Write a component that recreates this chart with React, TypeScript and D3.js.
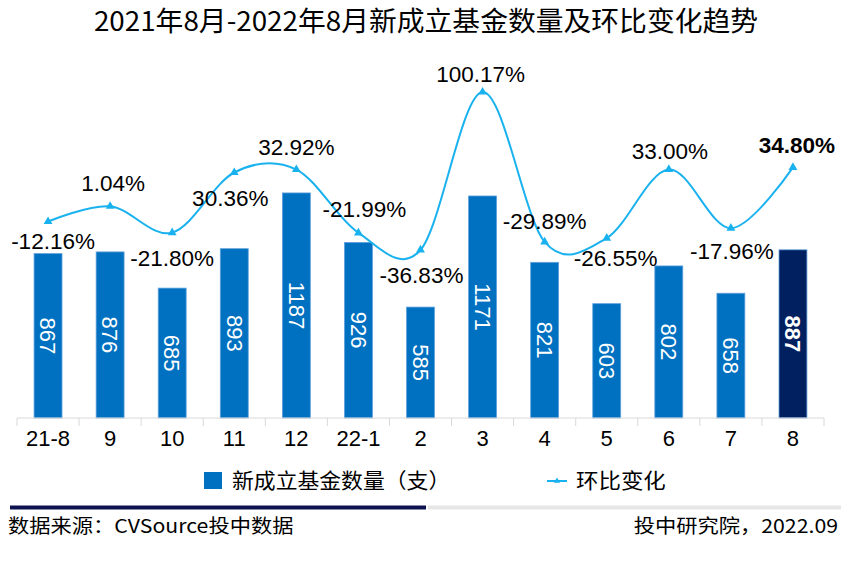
import React from "react";
import * as d3 from "d3";

const categories = ["21-8", "9", "10", "11", "12", "22-1", "2", "3", "4", "5", "6", "7", "8"];
const fundCounts = [867, 876, 685, 893, 1187, 926, 585, 1171, 821, 603, 802, 658, 887];
const momChange = [-12.16, 1.04, -21.8, 30.36, 32.92, -21.99, -36.83, 100.17, -29.89, -26.55, 33.0, -17.96, 34.8];
const seriesNames = ["新成立基金数量（支）", "环比变化"];
const titleText = "2021年8月-2022年8月新成立基金数量及环比变化趋势";
const sourceText = "数据来源：CVSource投中数据";
const creditText = "投中研究院，2022.09";

// label placement offsets (dx, dy) relative to the line point
const labelDx = [5, 3, 0, -4, 0, 6, 1, -2, 0, 9, 1, 1, 4];
const labelDy = [20, -23, 25, 26, -22, -24, 25, -18, -21, 20, -18, 23, -22];

const W = 849;
const H = 567;
const CJK = "'Noto Sans CJK SC', 'Noto Sans', sans-serif";
const LAT = "'Liberation Sans', Arial, sans-serif";

function SText(props: {
  x: number; y: number; text: string; size: number; fill?: string; anchor?: string;
  weight?: string | number; family?: string; rotate?: number; sx?: number;
}) {
  const { x, y, text, size, fill = "#000", anchor = "middle", weight = "normal", family = LAT, rotate = 0, sx = 1 } = props;
  return (
    <g transform={`translate(${x},${y}) scale(${sx},1) rotate(${rotate})`}>
      <text
        x={0}
        y={0}
        dy="0.35em"
        textAnchor={anchor as any}
        fontSize={size}
        fontFamily={family}
        fontWeight={weight}
        fill={fill}
      >
        {text}
      </text>
    </g>
  );
}

export default function App() {
  const x = d3
    .scaleBand<string>()
    .domain(categories)
    .range([17, 824])
    .paddingInner(0.55)
    .paddingOuter(0.275);
  const step = x.step();
  const baseY = 418;
  const y = d3.scaleLinear().domain([0, 1400]).range([baseY, baseY - 1400 * 0.1896]);
  const y2 = d3.scaleLinear().domain([0, 100]).range([207.5, 207.5 - 115.3]);

  const pts: [number, number][] = momChange.map((v, i) => [x(categories[i])! + x.bandwidth() / 2, y2(v)]);
  const linePath = d3.line().curve(d3.curveCardinal.tension(0))(pts) || "";
  const tri = d3.symbol().type(d3.symbolTriangle).size(34)() || "";

  const lineColor = "#1AB2EE";
  const barColor = "#0070C0";
  const lastColor = "#002060";

  return (
    <div style={{ position: "absolute", left: 0, top: 0 }}>
      <svg width={W} height={H} style={{ display: "block", background: "#fff" }}>
        <rect x={0} y={0} width={W} height={H} fill="#fff" />
        <SText x={426} y={22} text={titleText} size={27} sx={1.03} family={CJK} />

        {/* bars */}
        {fundCounts.map((v, i) => (
          <rect
            key={"b" + i}
            x={x(categories[i])!}
            y={y(v)}
            width={x.bandwidth()}
            height={baseY - y(v)}
            fill={i === fundCounts.length - 1 ? lastColor : barColor}
            stroke="#5fa0dc"
            strokeWidth={0.8}
          />
        ))}
        {fundCounts.map((v, i) => (
          <SText
            key={"bl" + i}
            x={x(categories[i])! + x.bandwidth() / 2}
            y={(y(v) + baseY) / 2}
            text={String(v)}
            size={22}
            fill="#fff"
            rotate={90}
            weight={i === fundCounts.length - 1 ? "bold" : "normal"}
          />
        ))}

        {/* axis */}
        <line x1={17} x2={824} y1={baseY} y2={baseY} stroke="#d9d9d9" strokeWidth={1} />
        {d3.range(categories.length + 1).map((i) => (
          <line
            key={"t" + i}
            x1={17 + i * step}
            x2={17 + i * step}
            y1={baseY}
            y2={baseY + 8}
            stroke="#d9d9d9"
            strokeWidth={1}
          />
        ))}
        {categories.map((c) => (
          <SText key={"xl" + c} x={x(c)! + x.bandwidth() / 2} y={438} text={c} size={22} />
        ))}

        {/* line */}
        <path d={linePath} fill="none" stroke={lineColor} strokeWidth={2} />
        {pts.map((p, i) => (
          <path key={"m" + i} d={tri} transform={`translate(${p[0]},${p[1]})`} fill={lineColor} />
        ))}
        {momChange.map((v, i) => (
          <SText
            key={"ll" + i}
            x={pts[i][0] + labelDx[i]}
            y={pts[i][1] + labelDy[i]}
            text={v.toFixed(2) + "%"}
            size={22.5}
            weight={i === momChange.length - 1 ? "bold" : "normal"}
          />
        ))}

        {/* legend */}
        <rect x={204} y={472} width={18} height={17} fill={barColor} />
        <SText x={232} y={481} text={seriesNames[0]} size={21} sx={1.04} family={CJK} anchor="start" />
        <line x1={547} x2={567} y1={481} y2={481} stroke={lineColor} strokeWidth={2} />
        <path d={tri} transform={`translate(557,481) scale(0.7)`} fill={lineColor} />
        <SText x={576} y={481} text={seriesNames[1]} size={21} sx={1.07} family={CJK} anchor="start" />

        {/* footer */}
        <rect x={10} y={505.5} width={416} height={4} fill="#0d1250" />
        <rect x={428} y={505.5} width={413} height={4} fill="#e6e6e6" />
        <SText x={8} y={526} text={sourceText} size={19} sx={1.12} family={CJK} anchor="start" />
        <SText x={838} y={526} text={creditText} size={19} sx={1.12} family={CJK} anchor="end" />
      </svg>
    </div>
  );
}
